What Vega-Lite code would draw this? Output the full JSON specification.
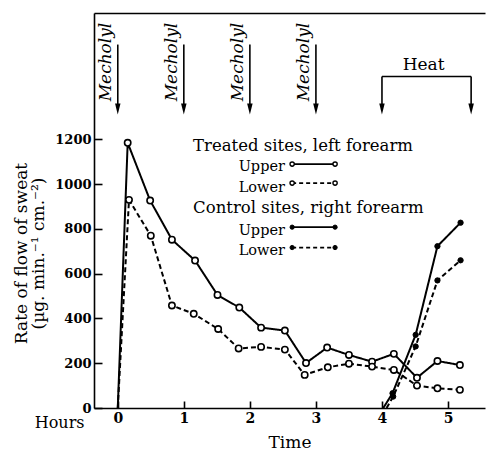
{
  "$schema": "https://vega.github.io/schema/vega-lite/v6.json",
  "width": 391,
  "height": 395,
  "autosize": "none",
  "padding": {"left": 94, "top": 13, "right": 2, "bottom": 44},
  "background": "white",
  "config": {
    "view": {"stroke": null},
    "font": "DejaVu Serif",
    "text": {"font": "DejaVu Serif", "color": "black"},
    "axis": {
      "domainColor": "black", "domainWidth": 1.6,
      "tickColor": "black", "tickWidth": 1.6,
      "labelColor": "black", "titleColor": "black",
      "grid": false,
      "labelFont": "DejaVu Serif", "titleFont": "DejaVu Serif",
      "labelFontWeight": "bold", "titleFontWeight": "normal"
    }
  },
  "datasets": {
    "sweat": [
      {"series": "Treated Upper", "site": "Treated", "level": "Upper", "t": 0, "rate": 0, "kind": "start"},
      {"series": "Treated Upper", "site": "Treated", "level": "Upper", "t": 0.15, "rate": 1185, "kind": "measured"},
      {"series": "Treated Upper", "site": "Treated", "level": "Upper", "t": 0.49, "rate": 927, "kind": "measured"},
      {"series": "Treated Upper", "site": "Treated", "level": "Upper", "t": 0.82, "rate": 752, "kind": "measured"},
      {"series": "Treated Upper", "site": "Treated", "level": "Upper", "t": 1.17, "rate": 659, "kind": "measured"},
      {"series": "Treated Upper", "site": "Treated", "level": "Upper", "t": 1.51, "rate": 505, "kind": "measured"},
      {"series": "Treated Upper", "site": "Treated", "level": "Upper", "t": 1.84, "rate": 449, "kind": "measured"},
      {"series": "Treated Upper", "site": "Treated", "level": "Upper", "t": 2.17, "rate": 359, "kind": "measured"},
      {"series": "Treated Upper", "site": "Treated", "level": "Upper", "t": 2.53, "rate": 346, "kind": "measured"},
      {"series": "Treated Upper", "site": "Treated", "level": "Upper", "t": 2.85, "rate": 201, "kind": "measured"},
      {"series": "Treated Upper", "site": "Treated", "level": "Upper", "t": 3.17, "rate": 270, "kind": "measured"},
      {"series": "Treated Upper", "site": "Treated", "level": "Upper", "t": 3.5, "rate": 237, "kind": "measured"},
      {"series": "Treated Upper", "site": "Treated", "level": "Upper", "t": 3.85, "rate": 207, "kind": "measured"},
      {"series": "Treated Upper", "site": "Treated", "level": "Upper", "t": 4.18, "rate": 242, "kind": "measured"},
      {"series": "Treated Upper", "site": "Treated", "level": "Upper", "t": 4.53, "rate": 135, "kind": "measured"},
      {"series": "Treated Upper", "site": "Treated", "level": "Upper", "t": 4.84, "rate": 210, "kind": "measured"},
      {"series": "Treated Upper", "site": "Treated", "level": "Upper", "t": 5.18, "rate": 192, "kind": "measured"},
      {"series": "Treated Lower", "site": "Treated", "level": "Lower", "t": 0, "rate": 0, "kind": "start"},
      {"series": "Treated Lower", "site": "Treated", "level": "Lower", "t": 0.17, "rate": 930, "kind": "measured"},
      {"series": "Treated Lower", "site": "Treated", "level": "Lower", "t": 0.5, "rate": 770, "kind": "measured"},
      {"series": "Treated Lower", "site": "Treated", "level": "Lower", "t": 0.82, "rate": 458, "kind": "measured"},
      {"series": "Treated Lower", "site": "Treated", "level": "Lower", "t": 1.15, "rate": 421, "kind": "measured"},
      {"series": "Treated Lower", "site": "Treated", "level": "Lower", "t": 1.52, "rate": 353, "kind": "measured"},
      {"series": "Treated Lower", "site": "Treated", "level": "Lower", "t": 1.83, "rate": 266, "kind": "measured"},
      {"series": "Treated Lower", "site": "Treated", "level": "Lower", "t": 2.17, "rate": 273, "kind": "measured"},
      {"series": "Treated Lower", "site": "Treated", "level": "Lower", "t": 2.53, "rate": 261, "kind": "measured"},
      {"series": "Treated Lower", "site": "Treated", "level": "Lower", "t": 2.83, "rate": 148, "kind": "measured"},
      {"series": "Treated Lower", "site": "Treated", "level": "Lower", "t": 3.18, "rate": 182, "kind": "measured"},
      {"series": "Treated Lower", "site": "Treated", "level": "Lower", "t": 3.5, "rate": 198, "kind": "measured"},
      {"series": "Treated Lower", "site": "Treated", "level": "Lower", "t": 3.85, "rate": 185, "kind": "measured"},
      {"series": "Treated Lower", "site": "Treated", "level": "Lower", "t": 4.18, "rate": 170, "kind": "measured"},
      {"series": "Treated Lower", "site": "Treated", "level": "Lower", "t": 4.53, "rate": 100, "kind": "measured"},
      {"series": "Treated Lower", "site": "Treated", "level": "Lower", "t": 4.84, "rate": 88, "kind": "measured"},
      {"series": "Treated Lower", "site": "Treated", "level": "Lower", "t": 5.18, "rate": 81, "kind": "measured"},
      {"series": "Control Upper", "site": "Control", "level": "Upper", "t": 4.02, "rate": 0, "kind": "start"},
      {"series": "Control Upper", "site": "Control", "level": "Upper", "t": 4.16, "rate": 66, "kind": "measured"},
      {"series": "Control Upper", "site": "Control", "level": "Upper", "t": 4.51, "rate": 327, "kind": "measured"},
      {"series": "Control Upper", "site": "Control", "level": "Upper", "t": 4.84, "rate": 723, "kind": "measured"},
      {"series": "Control Upper", "site": "Control", "level": "Upper", "t": 5.19, "rate": 828, "kind": "measured"},
      {"series": "Control Lower", "site": "Control", "level": "Lower", "t": 4.07, "rate": 0, "kind": "start"},
      {"series": "Control Lower", "site": "Control", "level": "Lower", "t": 4.17, "rate": 51, "kind": "measured"},
      {"series": "Control Lower", "site": "Control", "level": "Lower", "t": 4.51, "rate": 275, "kind": "measured"},
      {"series": "Control Lower", "site": "Control", "level": "Lower", "t": 4.84, "rate": 570, "kind": "measured"},
      {"series": "Control Lower", "site": "Control", "level": "Lower", "t": 5.19, "rate": 660, "kind": "measured"}
    ],
    "mecholyl": [
      {"label": "Mecholyl", "t": 0},
      {"label": "Mecholyl", "t": 1},
      {"label": "Mecholyl", "t": 2},
      {"label": "Mecholyl", "t": 3}
    ],
    "heat": [
      {"label": "Heat", "start": 4.0, "end": 5.35}
    ]
  },
  "resolve": {"axis": {"x": "independent"}},
  "layer": [
    {
      "data": {"name": "sweat"},
      "mark": {"type": "line", "color": "black", "strokeWidth": 2},
      "encoding": {
        "x": {
          "field": "t", "type": "quantitative",
          "scale": {"domain": [-0.36, 5.56], "nice": false, "zero": false},
          "axis": {
            "orient": "bottom", "values": [0, 1, 2, 3, 4, 5], "tickSize": -7,
            "labelPadding": 10, "labelFontSize": 14, "labelBaseline": "top",
            "title": "Time", "titleFontSize": 17, "titleX": 195.5, "titleY": 39,
            "titleAlign": "center", "titleBaseline": "alphabetic"
          }
        },
        "y": {
          "field": "rate", "type": "quantitative",
          "scale": {"domain": [0, 1765], "nice": false, "zero": false},
          "axis": {
            "values": [0, 200, 400, 600, 800, 1000, 1200], "format": "d", "tickSize": -8,
            "labelPadding": 11, "labelFontSize": 13,
            "title": ["Rate of flow of sweat", "(µg. min.⁻¹ cm.⁻²)"],
            "titleFontSize": 17, "titleAngle": 270, "titleX": -73, "titleY": 240,
            "titleAlign": "center", "titleBaseline": "middle", "titleLineHeight": 17
          }
        },
        "detail": {"field": "series"},
        "strokeDash": {
          "field": "level", "type": "nominal",
          "scale": {"domain": ["Upper", "Lower"], "range": [[1, 0], [5, 3]]},
          "legend": null
        }
      }
    },
    {
      "data": {"name": "sweat"},
      "transform": [{"filter": "datum.site === 'Treated' && datum.kind === 'measured'"}],
      "mark": {"type": "point", "shape": "circle", "filled": true, "fill": "white", "stroke": "black", "strokeWidth": 1.6, "size": 40, "opacity": 1},
      "encoding": {
        "x": {"field": "t", "type": "quantitative", "axis": {"orient": "top", "labels": false, "ticks": false, "title": null, "domain": true}},
        "y": {"field": "rate", "type": "quantitative"}
      }
    },
    {
      "data": {"name": "sweat"},
      "transform": [{"filter": "datum.site === 'Control' && datum.kind === 'measured'"}],
      "mark": {"type": "point", "shape": "circle", "filled": true, "fill": "black", "stroke": "black", "strokeWidth": 1, "size": 28, "opacity": 1},
      "encoding": {
        "x": {"field": "t", "type": "quantitative", "axis": null},
        "y": {"field": "rate", "type": "quantitative"}
      }
    },
    {
      "data": {"name": "mecholyl"},
      "mark": {"type": "rule", "color": "black", "strokeWidth": 1.6},
      "encoding": {
        "x": {"field": "t", "type": "quantitative", "axis": null},
        "y": {"datum": 1624, "type": "quantitative"},
        "y2": {"datum": 1336}
      }
    },
    {
      "data": {"name": "mecholyl"},
      "mark": {"type": "point", "shape": "M-0.5,-1L0.5,-1L0,1Z", "filled": true, "color": "black", "size": 120, "opacity": 1},
      "encoding": {
        "x": {"field": "t", "type": "quantitative", "axis": null},
        "y": {"datum": 1336, "type": "quantitative"}
      }
    },
    {
      "data": {"name": "mecholyl"},
      "mark": {"type": "text", "angle": 270, "fontStyle": "italic", "fontSize": 17, "align": "center", "baseline": "middle", "dy": -12, "color": "black"},
      "encoding": {
        "x": {"field": "t", "type": "quantitative", "axis": null},
        "y": {"datum": 1546, "type": "quantitative"},
        "text": {"field": "label"}
      }
    },
    {
      "data": {"name": "heat"},
      "mark": {"type": "rule", "color": "black", "strokeWidth": 1.6},
      "encoding": {
        "x": {"field": "start", "type": "quantitative", "axis": null},
        "x2": {"field": "end"},
        "y": {"datum": 1481, "type": "quantitative"}
      }
    },
    {
      "data": {"name": "heat"},
      "transform": [{"fold": ["start", "end"], "as": ["edge", "t"]}],
      "mark": {"type": "rule", "color": "black", "strokeWidth": 1.6},
      "encoding": {
        "x": {"field": "t", "type": "quantitative", "axis": null},
        "y": {"datum": 1481, "type": "quantitative"},
        "y2": {"datum": 1336}
      }
    },
    {
      "data": {"name": "heat"},
      "transform": [{"fold": ["start", "end"], "as": ["edge", "t"]}],
      "mark": {"type": "point", "shape": "M-0.5,-1L0.5,-1L0,1Z", "filled": true, "color": "black", "size": 120, "opacity": 1},
      "encoding": {
        "x": {"field": "t", "type": "quantitative", "axis": null},
        "y": {"datum": 1336, "type": "quantitative"}
      }
    },
    {
      "data": {"name": "heat"},
      "mark": {"type": "text", "fontSize": 17, "align": "center", "baseline": "alphabetic", "color": "black"},
      "encoding": {
        "x": {"datum": 4.63, "type": "quantitative", "axis": null},
        "y": {"datum": 1512, "type": "quantitative"},
        "text": {"field": "label"}
      }
    },
    {
      "data": {"values": [{"label": "Hours"}]},
      "mark": {"type": "text", "fontSize": 16, "align": "center", "baseline": "alphabetic", "color": "black"},
      "encoding": {
        "x": {"datum": -0.88, "type": "quantitative", "axis": null},
        "y": {"datum": -88, "type": "quantitative"},
        "text": {"field": "label"}
      }
    },
    {
      "data": {"values": [{"label": "Treated sites, left forearm"}]},
      "mark": {"type": "text", "fontSize": 16.5, "align": "left", "baseline": "alphabetic", "color": "black"},
      "encoding": {
        "x": {"datum": 1.14, "type": "quantitative", "axis": null},
        "y": {"datum": 1150, "type": "quantitative"},
        "text": {"field": "label"}
      }
    },
    {
      "data": {"values": [{"label": "Control sites, right forearm"}]},
      "mark": {"type": "text", "fontSize": 16.5, "align": "left", "baseline": "alphabetic", "color": "black"},
      "encoding": {
        "x": {"datum": 1.14, "type": "quantitative", "axis": null},
        "y": {"datum": 872, "type": "quantitative"},
        "text": {"field": "label"}
      }
    },
    {
      "data": {"values": [{}]},
      "mark": {"type": "text", "fontSize": 14.5, "align": "left", "baseline": "alphabetic", "lineHeight": 20.5, "color": "black", "text": ["Upper", "Lower"]},
      "encoding": {
        "x": {"datum": 1.83, "type": "quantitative", "axis": null},
        "y": {"datum": 1057, "type": "quantitative"}
      }
    },
    {
      "data": {"values": [{}]},
      "mark": {"type": "text", "fontSize": 14.5, "align": "left", "baseline": "alphabetic", "lineHeight": 20.5, "color": "black", "text": ["Upper", "Lower"]},
      "encoding": {
        "x": {"datum": 1.83, "type": "quantitative", "axis": null},
        "y": {"datum": 774, "type": "quantitative"}
      }
    },
    {
      "data": {"values": [{}]},
      "mark": {"type": "rule", "color": "black", "strokeWidth": 1.8},
      "encoding": {"x": {"datum": 2.64, "type": "quantitative", "axis": null}, "x2": {"datum": 3.29}, "y": {"datum": 1090, "type": "quantitative"}}
    },
    {
      "data": {"values": [{}]},
      "mark": {"type": "rule", "color": "black", "strokeWidth": 1.8, "strokeDash": [4, 3]},
      "encoding": {"x": {"datum": 2.64, "type": "quantitative", "axis": null}, "x2": {"datum": 3.29}, "y": {"datum": 1005, "type": "quantitative"}}
    },
    {
      "data": {"values": [{}]},
      "mark": {"type": "rule", "color": "black", "strokeWidth": 1.8},
      "encoding": {"x": {"datum": 2.64, "type": "quantitative", "axis": null}, "x2": {"datum": 3.29}, "y": {"datum": 808, "type": "quantitative"}}
    },
    {
      "data": {"values": [{}]},
      "mark": {"type": "rule", "color": "black", "strokeWidth": 1.8, "strokeDash": [4, 3]},
      "encoding": {"x": {"datum": 2.64, "type": "quantitative", "axis": null}, "x2": {"datum": 3.29}, "y": {"datum": 717, "type": "quantitative"}}
    },
    {
      "data": {"values": [{}]},
      "mark": {"type": "point", "shape": "circle", "filled": true, "fill": "white", "stroke": "black", "strokeWidth": 1.4, "size": 18, "opacity": 1},
      "encoding": {"x": {"datum": 2.64, "type": "quantitative", "axis": null}, "y": {"datum": 1090, "type": "quantitative"}}
    },
    {
      "data": {"values": [{}]},
      "mark": {"type": "point", "shape": "circle", "filled": true, "fill": "white", "stroke": "black", "strokeWidth": 1.4, "size": 18, "opacity": 1},
      "encoding": {"x": {"datum": 3.29, "type": "quantitative", "axis": null}, "y": {"datum": 1090, "type": "quantitative"}}
    },
    {
      "data": {"values": [{}]},
      "mark": {"type": "point", "shape": "circle", "filled": true, "fill": "white", "stroke": "black", "strokeWidth": 1.4, "size": 18, "opacity": 1},
      "encoding": {"x": {"datum": 2.64, "type": "quantitative", "axis": null}, "y": {"datum": 1005, "type": "quantitative"}}
    },
    {
      "data": {"values": [{}]},
      "mark": {"type": "point", "shape": "circle", "filled": true, "fill": "white", "stroke": "black", "strokeWidth": 1.4, "size": 18, "opacity": 1},
      "encoding": {"x": {"datum": 3.29, "type": "quantitative", "axis": null}, "y": {"datum": 1005, "type": "quantitative"}}
    },
    {
      "data": {"values": [{}]},
      "mark": {"type": "point", "shape": "circle", "filled": true, "fill": "black", "stroke": "black", "strokeWidth": 1, "size": 18, "opacity": 1},
      "encoding": {"x": {"datum": 2.64, "type": "quantitative", "axis": null}, "y": {"datum": 808, "type": "quantitative"}}
    },
    {
      "data": {"values": [{}]},
      "mark": {"type": "point", "shape": "circle", "filled": true, "fill": "black", "stroke": "black", "strokeWidth": 1, "size": 18, "opacity": 1},
      "encoding": {"x": {"datum": 3.29, "type": "quantitative", "axis": null}, "y": {"datum": 808, "type": "quantitative"}}
    },
    {
      "data": {"values": [{}]},
      "mark": {"type": "point", "shape": "circle", "filled": true, "fill": "black", "stroke": "black", "strokeWidth": 1, "size": 18, "opacity": 1},
      "encoding": {"x": {"datum": 2.64, "type": "quantitative", "axis": null}, "y": {"datum": 717, "type": "quantitative"}}
    },
    {
      "data": {"values": [{}]},
      "mark": {"type": "point", "shape": "circle", "filled": true, "fill": "black", "stroke": "black", "strokeWidth": 1, "size": 18, "opacity": 1},
      "encoding": {"x": {"datum": 3.29, "type": "quantitative", "axis": null}, "y": {"datum": 717, "type": "quantitative"}}
    }
  ]
}
